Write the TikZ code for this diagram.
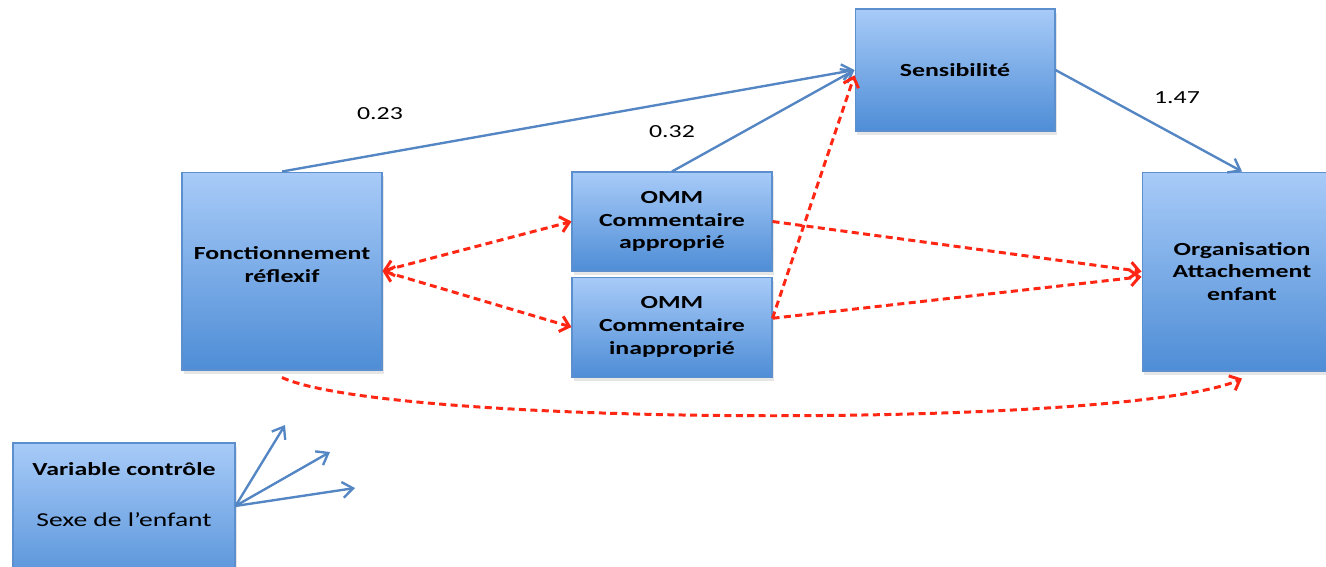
\documentclass[tikz,border=0pt]{standalone}
\usepackage{fontspec}
\setmainfont{Carlito}[FakeStretch=1.4]
\usetikzlibrary{positioning}
\usetikzlibrary{arrows.meta, shadows}
\definecolor{boxtop}{RGB}{168,203,248}
\definecolor{boxbot}{RGB}{78,141,214}
\definecolor{boxline}{RGB}{91,143,206}
\definecolor{pathblue}{RGB}{84,134,196}
\definecolor{pathred}{RGB}{255,38,20}

\begin{document}
\begin{tikzpicture}[x=0.02cm, y=-0.02cm,
		varbox/.style={draw=boxline, line width=0.6pt, top color=boxtop, bottom color=boxbot,
			minimum width=4cm, align=center, font=\fontsize{10.5}{13}\selectfont\bfseries,
			drop shadow={opacity=0.2, shadow xshift=1pt, shadow yshift=-2pt}},
		effet/.style={draw=pathblue, line width=1.35pt, >={Straight Barb[length=6pt, width=9pt]}},
		lien/.style={draw=pathred, line width=1.7pt, dash pattern=on 4pt off 2.5pt,
			>={Straight Barb[length=5pt, width=9pt]}},
		coef/.style={font=\fontsize{10.5}{13}\selectfont}]
		
		\useasboundingbox (0,0) rectangle (1326,566);
		
		\node[varbox, minimum height=3.96cm] (fonct) at (282,271) {Fonctionnement\\réflexif\\[-6pt]~};
		\node[varbox, minimum height=1.98cm] (omma) at (672,221.5) {OMM\\Commentaire\\approprié};
		\node[varbox, minimum height=2cm, below=0.1cm of omma] (ommi) {OMM\\Commentaire\\inapproprié};
		\node[varbox, minimum height=2.44cm] (sens) at (955,70) {Sensibilité};
		\node[varbox, minimum height=3.98cm] (orga) at (1242,271.5) {Organisation\\Attachement\\enfant};
		\node[varbox, minimum width=4.44cm, minimum height=3.08cm] (ctrl) at (124,520)
			{Variable contrôle\\[16pt]{\mdseries\fontsize{11.2}{13}\selectfont Sexe de l’enfant}\\[16pt]~};
		
		\draw[effet, ->] (fonct.north) -- (sens.west);
		\draw[effet, ->] (omma.north) -- (sens.west);
		\draw[effet, ->] (sens.east) -- (orga.north);
		
		\draw[lien, <->] (fonct.east) -- (omma.west);
		\draw[lien, <->] (fonct.east) -- (ommi.west);
		\draw[lien, ->] (omma.east) -- (orga.west);
		\draw[lien, ->] ([yshift=5pt]ommi.east) -- ([yshift=-3pt]orga.west);
		\draw[lien, ->] ([yshift=5pt]ommi.east) -- (sens.183);
		\draw[lien, ->] ([yshift=-4pt]fonct.south) .. controls +(110,50) and +(-110,50) .. ([yshift=-4pt]orga.south);
		
		\coordinate (sexe1) at (285,425);
		\coordinate (sexe2) at (330,452);
		\coordinate (sexe3) at (355,488);
		\draw[effet, ->] ([yshift=8pt]ctrl.east) -- (sexe1);
		\draw[effet, ->] ([yshift=8pt]ctrl.east) -- (sexe2);
		\draw[effet, ->] ([yshift=8pt]ctrl.east) -- (sexe3);
		
		\node[coef] (b023) at (380,114) {0.23};
		\node[coef] (b032) at (672,132) {0.32};
		\node[coef] (b147) at (1177,98) {1.47};
	\end{tikzpicture}
\end{document}
